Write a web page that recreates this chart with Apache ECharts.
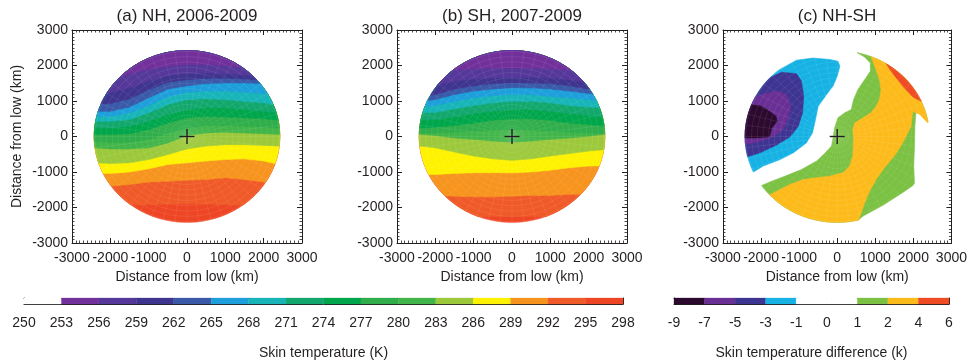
<!DOCTYPE html>
<html>
<head>
<meta charset="utf-8">
<script src="https://cdn.jsdelivr.net/npm/echarts@6/dist/echarts.min.js"></script>
<style>
  html, body { margin: 0; padding: 0; background: #fff; }
  #chart { width: 970px; height: 363px; }
</style>
</head>
<body>
<div id="chart"></div>
<script>
// ---- colour scales -------------------------------------------------------
const TEMP_TICKS = ['250','253','256','259','262','265','268','271','274','277','280','283','286','289','292','295','298'];
const TEMP_COLORS = ['#ffffff','#72309b','#55389a','#3f358f','#3a59a8','#1d9fdb','#17b5b8','#12a86d',
                     '#00a64b','#2fae4b','#41b549','#9cc93b','#fff200','#f7941e','#f05a28','#ee4625'];
const DIFF_TICKS = ['-9','-7','-5','-3','-1','0','1','2','4','6'];
const DIFF_COLORS = ['#2c0a2f','#6a2f95','#3e3592','#16b2e4','#ffffff','#ffffff','#7bc143','#fdbb1b','#ef4b24'];

// ---- composites: isotherm positions (km north of the low) at these x (km) --
const isoX = [-2400, -2000, -1500, -1000, -500, 0, 500, 1000, 1500, 2000, 2400];
const isoLevels = [256, 259, 262, 265, 268, 271, 274, 277, 280, 283, 286, 289, 292, 295];

// (a) Northern Hemisphere, 2006-2009
const nh256 = [1560, 1650, 1770, 1900, 1980, 2030, 2030, 2000, 1950, 1880, 1790];
const nh259 = [1180, 1230, 1370, 1560, 1720, 1770, 1790, 1770, 1730, 1680, 1600];
const nh262 = [900, 930, 1060, 1320, 1530, 1600, 1640, 1640, 1620, 1580, 1510];
const nh265 = [710, 710, 830, 1090, 1340, 1430, 1490, 1510, 1510, 1490, 1430];
const nh268 = [570, 570, 670, 870, 1120, 1250, 1280, 1280, 1250, 1210, 1130];
const nh271 = [430, 430, 480, 670, 900, 1040, 1060, 1040, 990, 950, 870];
const nh274 = [240, 240, 290, 430, 620, 760, 810, 810, 760, 710, 670];
const nh277 = [60, 60, 80, 200, 380, 530, 570, 550, 530, 500, 460];
const nh280 = [-130, -160, -160, -80, 100, 240, 310, 310, 290, 270, 240];
const nh283 = [-320, -350, -350, -320, -180, 30, 100, 120, 100, 80, 60];
const nh286 = [-740, -760, -740, -650, -510, -350, -270, -230, -230, -250, -270];
const nh289 = [-1040, -1040, -1000, -910, -790, -740, -690, -650, -630, -690, -790];
const nh292 = [-1400, -1400, -1350, -1280, -1260, -1230, -1210, -1160, -1210, -1280, -1350];
const nh295 = [-1950, -1950, -1930, -1920, -1900, -1900, -1900, -1920, -1940, -1960, -1980];

// (b) Southern Hemisphere, 2007-2009
const sh256 = [1650, 1770, 1870, 1910, 1930, 1930, 1930, 1910, 1870, 1770, 1650];
const sh259 = [1320, 1430, 1560, 1620, 1650, 1670, 1670, 1650, 1600, 1510, 1400];
const sh262 = [1110, 1180, 1340, 1430, 1490, 1510, 1510, 1490, 1430, 1340, 1250];
const sh265 = [990, 1040, 1180, 1280, 1340, 1370, 1370, 1340, 1280, 1210, 1130];
const sh268 = [830, 870, 990, 1090, 1150, 1180, 1180, 1130, 1090, 1040, 990];
const sh271 = [670, 680, 780, 870, 950, 990, 990, 950, 870, 830, 810];
const sh274 = [460, 480, 550, 650, 710, 760, 760, 710, 650, 590, 550];
const sh277 = [240, 260, 310, 380, 460, 500, 500, 460, 380, 340, 290];
const sh280 = [100, 100, 120, 150, 180, 200, 180, 150, 120, 100, 80];
const sh283 = [60, 30, -40, -80, -130, -160, -130, -80, -40, 10, 60];
const sh286 = [-270, -320, -440, -550, -630, -670, -630, -550, -480, -410, -370];
const sh289 = [-1070, -1070, -1040, -1020, -1020, -1020, -1000, -950, -880, -830, -830];
const sh292 = [-1660, -1660, -1680, -1700, -1700, -1680, -1660, -1660, -1630, -1630, -1630];
const sh295 = [-2250, -2250, -2250, -2250, -2250, -2250, -2250, -2250, -2250, -2250, -2250];

// (c) NH-SH difference: contour outlines (km), one per threshold
const diffLe1 = [[-1590, 1840], [-1070, 2150], [-630, 2210], [-200, 2170], [20, 2120], [70, 1980], [0, 1700],
  [-110, 1420], [-280, 1180], [-500, 850], [-570, 480], [-650, 100], [-810, -180], [-1150, -460], [-1500, -650],
  [-1940, -830], [-2200, -1000], [-2720, -1210], [-2720, 2450], [-1760, 2450]];
const diffLe3 = [[-2030, 1510], [-1720, 1680], [-1460, 1810], [-1070, 1770], [-940, 1560], [-880, 1130],
  [-910, 670], [-1020, 290], [-1240, -10], [-1590, -240], [-2030, -460], [-2360, -570], [-2720, -650], [-2720, 1510]];
const diffLe5 = [[-2720, 850], [-2290, 1040], [-1940, 1200], [-1590, 1280], [-1330, 1180], [-1220, 850],
  [-1290, 480], [-1460, 150], [-1760, -40], [-2110, -160], [-2370, -210], [-2720, -230]];
const diffLe7 = [[-2720, 900], [-2290, 900], [-2030, 870], [-1810, 740], [-1610, 570], [-1570, 430],
  [-1720, 240], [-1780, -10], [-2110, -40], [-2720, -40]];
const diffGe1 = [[-2290, -1580], [-2030, -1400], [-1720, -1260], [-1330, -1100], [-940, -930], [-540, -690],
  [-330, -480], [-150, -270], [-110, -40], [-70, 240], [20, 530], [200, 670], [370, 760], [430, 1040],
  [540, 1320], [720, 1600], [870, 1840], [870, 2070], [720, 2240], [460, 2400], [460, 2730], [2940, 2730],
  [2940, 950], [2400, 400], [2200, 620], [2070, 710], [2040, 290], [2030, -270], [2010, -830], [2030, -1350],
  [1720, -1580], [1200, -1940], [680, -2240], [500, -2410], [500, -2900], [-2290, -2900]];
const diffGe2 = [[-2030, -1770], [-1850, -1680], [-1590, -1540], [-1240, -1350], [-890, -1210], [-540, -1160],
  [-200, -1120], [150, -1020], [330, -830], [410, -550], [430, -80], [410, 200], [460, 380], [680, 530],
  [890, 670], [1020, 850], [1110, 1040], [1150, 1320], [1110, 1600], [1020, 1880], [920, 2170], [850, 2350],
  [850, 2730], [2940, 2730], [2940, 1040], [2380, 380], [2170, 620], [1980, 710], [1940, 290], [1720, -180],
  [1500, -550], [1240, -880], [1020, -1210], [850, -1540], [720, -1870], [630, -2150], [540, -2410],
  [540, -2900], [-2030, -2900]];
const diffGe4 = [[1200, 2170], [1720, 2450], [2940, 1510], [2200, 990], [1980, 1120], [1760, 1370],
  [1550, 1650], [1390, 1880], [1300, 2025]];

const LOW_CENTER = [0, 0];
const DOMAIN_RADIUS = 2420;   // km, outer edge of the composites

// ---- geometry helpers ----------------------------------------------------
const FONT = '"Liberation Sans", Arial, Helvetica, sans-serif';
const INK = '#231f20';

function ring(r, n) {
  const pts = [];
  for (let k = 0; k < n; k++) {
    const t = 2 * Math.PI * k / n;
    pts.push([r * Math.cos(t), r * Math.sin(t)]);
  }
  return pts;
}
const domainOutline = ring(DOMAIN_RADIUS, 90);

function cut(p, q, dp, dq) {
  const t = dp / (dp - dq);
  return [p[0] + t * (q[0] - p[0]), p[1] + t * (q[1] - p[1])];
}
// Sutherland-Hodgman clipping against a convex outline
function clipConvex(subject, clip) {
  let area = 0;
  for (let i = 0; i < clip.length; i++) {
    const a = clip[i], b = clip[(i + 1) % clip.length];
    area += a[0] * b[1] - b[0] * a[1];
  }
  const s = area > 0 ? 1 : -1;
  let out = subject;
  for (let i = 0; i < clip.length && out.length; i++) {
    const a = clip[i], b = clip[(i + 1) % clip.length];
    const side = p => s * ((b[0] - a[0]) * (p[1] - a[1]) - (b[1] - a[1]) * (p[0] - a[0]));
    const input = out;
    out = [];
    for (let j = 0; j < input.length; j++) {
      const cur = input[j], prev = input[(j + input.length - 1) % input.length];
      const dc = side(cur), dp = side(prev);
      if (dc >= 0) {
        if (dp < 0) out.push(cut(prev, cur, dp, dc));
        out.push(cur);
      } else if (dp >= 0) {
        out.push(cut(prev, cur, dp, dc));
      }
    }
  }
  return out;
}

// Filled bands: warmest everywhere, then the region north of each isotherm
function isothermLayers(lines) {
  const layers = [{ poly: [[-3000, -3000], [3000, -3000], [3000, 3000], [-3000, 3000]], color: TEMP_COLORS[15] }];
  for (let k = lines.length - 1; k >= 0; k--) {
    const ys = lines[k];
    const poly = [[-3000, ys[0]]];
    isoX.forEach((x, i) => poly.push([x, ys[i]]));
    poly.push([3000, ys[ys.length - 1]], [3000, 3000], [-3000, 3000]);
    layers.push({ poly, color: TEMP_COLORS[(isoLevels[k] - 253) / 3] });
  }
  return layers;
}

const nhLayers = isothermLayers([nh256, nh259, nh262, nh265, nh268, nh271, nh274, nh277, nh280, nh283, nh286, nh289, nh292, nh295]);
const shLayers = isothermLayers([sh256, sh259, sh262, sh265, sh268, sh271, sh274, sh277, sh280, sh283, sh286, sh289, sh292, sh295]);
const diffLayers = [
  { poly: diffLe1, color: DIFF_COLORS[3] },
  { poly: diffLe3, color: DIFF_COLORS[2] },
  { poly: diffLe5, color: DIFF_COLORS[1] },
  { poly: diffLe7, color: DIFF_COLORS[0] },
  { poly: diffGe1, color: DIFF_COLORS[6] },
  { poly: diffGe2, color: DIFF_COLORS[7] },
  { poly: diffGe4, color: DIFF_COLORS[8] }
];

// ---- series builders -----------------------------------------------------
function fieldSeries(g, layers) {
  return {
    type: 'custom', coordinateSystem: 'cartesian2d', xAxisIndex: 2 * g, yAxisIndex: 2 * g,
    silent: true, animation: false, z: 1,
    data: layers.map((_, i) => [i]),
    renderItem(params, api) {
      const layer = layers[params.dataIndex];
      const clipPx = domainOutline.map(p => api.coord(p));
      const pts = clipConvex(layer.poly.map(p => api.coord(p)), clipPx);
      if (pts.length < 3) return { type: 'group', children: [] };
      return { type: 'polygon', shape: { points: pts },
               style: { fill: layer.color, stroke: layer.color, lineWidth: 0.6 } };
    }
  };
}

// faint mesh of the composite grid
function meshSeries(g) {
  return {
    type: 'custom', coordinateSystem: 'cartesian2d', xAxisIndex: 2 * g, yAxisIndex: 2 * g,
    silent: true, animation: false, z: 2,
    data: [LOW_CENTER],
    renderItem(params, api) {
      const children = [];
      const stroke = 'rgba(255,255,255,0.13)';
      const c = api.coord(LOW_CENTER);
      for (let k = 0; k < 48; k++) {
        const t = 2 * Math.PI * k / 48;
        const e = api.coord([DOMAIN_RADIUS * Math.cos(t), DOMAIN_RADIUS * Math.sin(t)]);
        children.push({ type: 'line', shape: { x1: c[0], y1: c[1], x2: e[0], y2: e[1] },
          style: { stroke, lineWidth: 0.6 } });
      }
      for (let r = 150; r < DOMAIN_RADIUS; r += 150) {
        children.push({ type: 'polygon', shape: { points: ring(r, 72).map(p => api.coord(p)) },
          style: { fill: null, stroke, lineWidth: 0.6 } });
      }
      return { type: 'group', children };
    }
  };
}

function crossSeries(g) {
  return {
    type: 'custom', coordinateSystem: 'cartesian2d', xAxisIndex: 2 * g, yAxisIndex: 2 * g,
    silent: true, animation: false, z: 5,
    data: [LOW_CENTER],
    renderItem(params, api) {
      const c = api.coord([api.value(0), api.value(1)]);
      const h = 7.5;
      return { type: 'group', children: [
        { type: 'line', shape: { x1: c[0] - h, y1: c[1], x2: c[0] + h, y2: c[1] }, style: { stroke: INK, lineWidth: 1.4 } },
        { type: 'line', shape: { x1: c[0], y1: c[1] - h, x2: c[0], y2: c[1] + h }, style: { stroke: INK, lineWidth: 1.4 } }
      ] };
    }
  };
}

function colorbarSeries(axisIdx, colors) {
  return {
    type: 'custom', coordinateSystem: 'cartesian2d', xAxisIndex: axisIdx, yAxisIndex: axisIdx,
    silent: true, animation: false, z: 1,
    data: colors.map((_, i) => [i]),
    renderItem(params, api) {
      const i = params.dataIndex;
      const a = api.coord([i, 1]), b = api.coord([i + 1, 0]);
      return { type: 'rect', shape: { x: a[0], y: a[1], width: b[0] - a[0], height: b[1] - a[1] },
               style: { fill: colors[i], stroke: colors[i], lineWidth: 0.3 } };
    }
  };
}

// ---- axes ----------------------------------------------------------------
const textStyle = { fontSize: 14, color: INK, fontFamily: FONT };
const plainNumber = v => String(v);
function panelAxes(g, withYName) {
  const common = {
    gridIndex: g, type: 'value', min: -3000, max: 3000, interval: 1000,
    axisLine: { show: true, onZero: false, lineStyle: { color: INK, width: 1 } },
    axisTick: { show: true, inside: true, length: 5, lineStyle: { color: INK, width: 1 } },
    minorTick: { show: true, splitNumber: 10, length: 2.5, lineStyle: { color: INK, width: 0.8 } },
    splitLine: { show: false }
  };
  const labels = Object.assign({ show: true, formatter: plainNumber, showMinLabel: true, showMaxLabel: true, hideOverlap: false }, textStyle);
  const x = [
    Object.assign({}, common, { position: 'bottom',
      axisLabel: Object.assign({ margin: 8 }, labels),
      name: 'Distance from low (km)', nameLocation: 'middle', nameGap: 23, nameTextStyle: textStyle }),
    Object.assign({}, common, { position: 'top', axisLabel: { show: false } })
  ];
  const yl = Object.assign({}, common, { position: 'left', axisLabel: Object.assign({ margin: 4 }, labels) });
  if (withYName) Object.assign(yl, { name: 'Distance from low (km)', nameLocation: 'middle', nameGap: 48, nameTextStyle: textStyle });
  const y = [yl, Object.assign({}, common, { position: 'right', axisLabel: { show: false } })];
  return { x, y };
}

function colorbarAxes(g, ticks, title) {
  const n = ticks.length - 1;
  const frame = { show: true, onZero: false, lineStyle: { color: INK, width: 1 } };
  const x = [
    { gridIndex: g, type: 'value', min: 0, max: n, interval: 1, position: 'bottom',
      axisLine: frame, axisTick: { show: false }, splitLine: { show: false },
      axisLabel: Object.assign({ show: true, margin: 12, formatter: v => ticks[v], hideOverlap: false }, textStyle),
      name: title, nameLocation: 'middle', nameGap: 42, nameTextStyle: textStyle },
    { gridIndex: g, type: 'value', min: 0, max: n, position: 'top',
      axisLine: frame, axisTick: { show: false }, splitLine: { show: false }, axisLabel: { show: false } }
  ];
  const y = ['left', 'right'].map(pos => ({
    gridIndex: g, type: 'value', min: 0, max: 1, position: pos,
    axisLine: frame, axisTick: { show: false }, splitLine: { show: false }, axisLabel: { show: false } }));
  return { x, y };
}

const pa = panelAxes(0, true), pb = panelAxes(1, false), pc = panelAxes(2, false);
const ca = colorbarAxes(3, TEMP_TICKS, 'Skin temperature (K)');
const cb = colorbarAxes(4, DIFF_TICKS, 'Skin temperature difference (k)');

const titleStyle = { fontSize: 17, fontWeight: 'normal', color: INK, fontFamily: FONT };
const option = {
  backgroundColor: '#ffffff',
  animation: false,
  title: [
    { text: '(a) NH, 2006-2009', left: 187, top: 8, textAlign: 'center', padding: 0, textStyle: titleStyle },
    { text: '(b) SH, 2007-2009', left: 512, top: 8, textAlign: 'center', padding: 0, textStyle: titleStyle },
    { text: '(c) NH-SH', left: 837, top: 8, textAlign: 'center', padding: 0, textStyle: titleStyle }
  ],
  grid: [
    { left: 72, top: 30, width: 230, height: 213 },
    { left: 397, top: 30, width: 230, height: 213 },
    { left: 723, top: 30, width: 229, height: 213 },
    { left: 24, top: 298, width: 599, height: 6 },
    { left: 674, top: 298, width: 275, height: 6 }
  ],
  xAxis: [].concat(pa.x, pb.x, pc.x, ca.x, cb.x),
  yAxis: [].concat(pa.y, pb.y, pc.y, ca.y, cb.y),
  series: [
    fieldSeries(0, nhLayers), meshSeries(0), crossSeries(0),
    fieldSeries(1, shLayers), meshSeries(1), crossSeries(1),
    fieldSeries(2, diffLayers), meshSeries(2), crossSeries(2),
    colorbarSeries(6, TEMP_COLORS),
    colorbarSeries(8, DIFF_COLORS)
  ]
};

const chart = echarts.init(document.getElementById('chart'), null, { renderer: 'canvas' });
chart.setOption(option);
</script>
</body>
</html>
